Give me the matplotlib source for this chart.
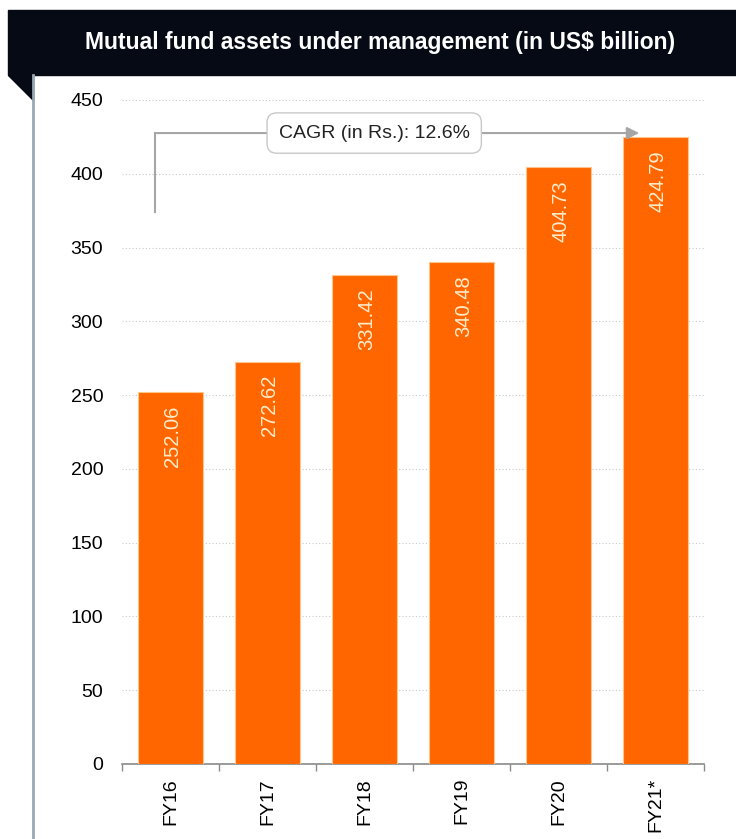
import numpy as np
import matplotlib.pyplot as plt
from matplotlib.patches import Polygon, Rectangle

plt.rcParams['font.family'] = ['Liberation Sans', 'DejaVu Sans']

years = ['FY16', 'FY17', 'FY18', 'FY19', 'FY20', 'FY21*']
aum = [252.06, 272.62, 331.42, 340.48, 404.73, 424.79]
yticks = [0, 50, 100, 150, 200, 250, 300, 350, 400, 450]
title = 'Mutual fund assets under management (in US$ billion)'
cagr_text = 'CAGR (in Rs.): 12.6%'

W, H = 736, 839
fig = plt.figure(figsize=(W / 100, H / 100), dpi=100)

# black title banner with the little fold triangle under it
fig.patches.append(Rectangle((8 / W, 1 - 75 / H), 728 / W, 65 / H,
                             transform=fig.transFigure, color='#050a14'))
fig.patches.append(Polygon([(8 / W, 1 - 75 / H), (33 / W, 1 - 75 / H), (33 / W, 1 - 100 / H)],
                           closed=True, transform=fig.transFigure, color='#050a14'))
fig.lines.append(plt.Line2D([33 / W, 33 / W], [0, 1 - 75 / H], transform=fig.transFigure,
                            color='#9aa7b3', lw=2))
fig.text(380 / W, 1 - 43 / H, title, color='white', fontsize=16.5, fontweight='bold',
         ha='center', va='center')

ax = fig.add_axes([122 / W, 1 - 764 / H, 582 / W, 664 / H])
x = np.arange(len(years))
bars = ax.bar(x, aum, width=0.67, color='#ff6600', edgecolor='#ffc58a', linewidth=0.8, zorder=3)

for xi, v in zip(x, aum):
    ax.annotate(f'{v:.2f}', (xi, v), xytext=(1.5, -9.5), textcoords='offset points',
                rotation=90, ha='center', va='top', color='#ffeccb', fontsize=14.5)

ax.set_xlim(-0.5, len(years) - 0.5)
ax.set_ylim(0, 450)
ax.set_yticks(yticks)
ax.yaxis.grid(True, linestyle=(0, (1, 2)), color='#c8c8c8', lw=0.8)
ax.set_axisbelow(True)
ax.tick_params(axis='y', length=0, labelsize=14, pad=13.5)
ax.set_xticks(x)
ax.set_xticklabels(years, rotation=90, fontsize=14)
ax.tick_params(axis='x', length=0, pad=10)
ax.set_xticks(np.arange(-0.5, len(years)), minor=True)
ax.tick_params(axis='x', which='minor', length=5, color='#8a8a8a', width=1)
for s in ['left', 'right', 'top']:
    ax.spines[s].set_visible(False)
ax.spines['bottom'].set_color('#8a8a8a')
ax.spines['bottom'].set_linewidth(1.2)

# CAGR bracket arrow
ax.plot([-0.16, -0.16], [374, 427.6], color='#a6a6a6', lw=1.5, clip_on=False)
ax.annotate('', xy=(4.86, 427.6), xytext=(-0.17, 427.6),
            arrowprops=dict(arrowstyle='-|>', color='#a6a6a6', lw=1.5, mutation_scale=18))
ax.text(2.1, 427.6, cagr_text, ha='center', va='center', fontsize=14, color='#222222',
        bbox=dict(boxstyle='round,pad=0.6,rounding_size=0.5', fc='white', ec='#c8c8c8', lw=1))

fig.savefig('out.png', dpi=100)
